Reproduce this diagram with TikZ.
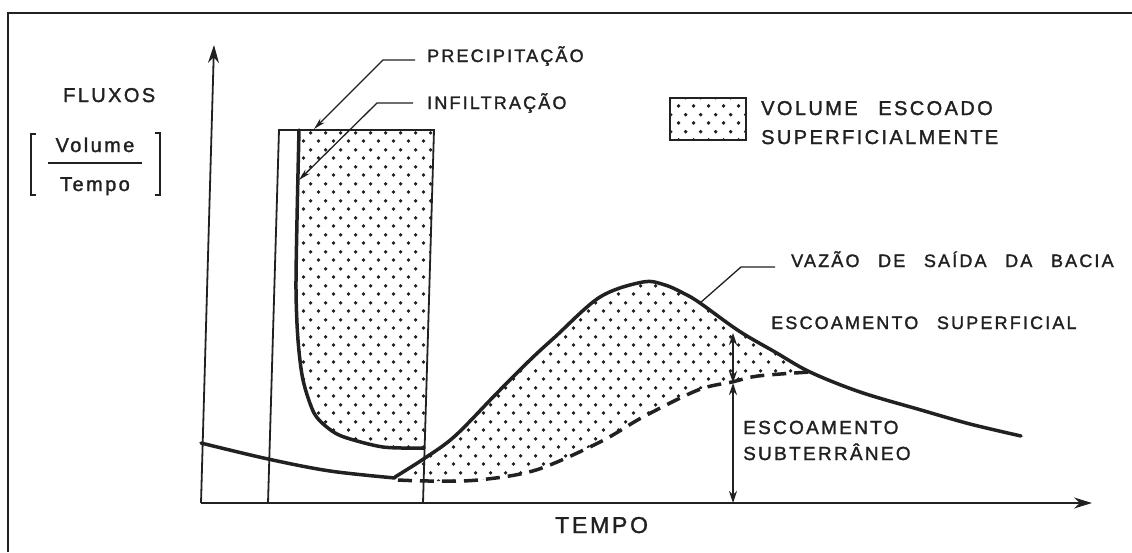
\documentclass[tikz,border=0pt]{standalone}
\usepackage{fontspec}
\setmainfont{Liberation Sans}[LetterSpace=12,WordSpace=2.6,FakeBold=1.5]
\usetikzlibrary{arrows.meta,patterns.meta}

\definecolor{ink}{gray}{0.13}

\tikzdeclarepattern{
  name=stipple,
  bottom left={(0pt,0pt)},
  top right={(15pt,17pt)},
  tile size={(15pt,17pt)},
  code={
    \fill (3.75pt,4.25pt) circle (2pt);
    \fill (11.25pt,12.75pt) circle (2pt);
  }
}

\tikzset{
  axisline/.style={ink, line width=1.8pt, -{Stealth[length=18pt,width=11pt]}},
  boxline/.style={ink, line width=1.8pt},
  runoff/.style={ink, line width=3.5pt, line cap=round, line join=round},
  baseflow/.style={ink, line width=3.5pt, dash pattern=on 14pt off 8pt},
  leader/.style={ink, line width=1.3pt, -{Stealth[length=12pt,width=6pt]}},
  twoway/.style={ink, line width=1.5pt, {Stealth[length=12pt,width=8pt]}-{Stealth[length=12pt,width=8pt]}},
  stippled/.style={pattern=stipple, pattern color=ink},
  lettering/.style={inner sep=0pt, anchor=base west, text=ink, font=\fontsize{18}{22}\selectfont},
}

\begin{document}
\begin{tikzpicture}[x=1pt,y=-1pt]
\useasboundingbox[fill=white] (0,0) rectangle (1132,552);

% Frame
\draw[ink, line width=2pt] (8,552) -- (8,13) -- (1132,13);

% Stippled volumes
\fill[stippled] plot[smooth, tension=0.5] coordinates {(299,130) (297,220) (296,290) (298,340) (303,380) (314,413) (328,428) (344,437) (383,447) (424,448)} -- (434,130) -- cycle;
\fill[stippled] plot[smooth, tension=0.55] coordinates {(395,477) (425,458) (455,436) (497,393) (530,360) (555,337) (600,297) (643,282) (665,285) (685,294) (700,303) (739,331) (775,352) (810,372)}
  -- plot[smooth, tension=0.55] coordinates {(810,372) (758,376) (732,382) (698,390) (643,417) (600,442) (536,470) (478,480) (429,481) (395,479)} -- cycle;

% Axes
\coordinate (origin) at (201,503);
\draw[axisline] (origin) -- (214,45);
\draw[axisline] (origin) -- (1092,503);

% Precipitation block
\draw[boxline] (268,503) -- (279,130) -- (434,130) -- (423,503);

% Infiltration
\draw[runoff] plot[smooth, tension=0.5] coordinates {(299,130) (297,220) (296,290) (298,340) (303,380) (314,413) (328,428) (344,437) (383,447) (424,448)};

% Outflow hydrograph
\draw[runoff] plot[smooth, tension=0.55] coordinates {(201,443) (268,459) (330,471) (395,478)};
\draw[runoff] plot[smooth, tension=0.55] coordinates {(395,477) (425,458) (455,436) (497,393) (530,360) (555,337) (600,297) (643,282) (665,285) (685,294) (700,303) (739,331) (775,352) (810,372) (860,392) (921,410) (970,424) (1021,436)};
\draw[baseflow] plot[smooth, tension=0.55] coordinates {(398,480) (429,481) (478,480) (536,470) (600,442) (643,417) (698,390) (732,382) (758,376) (810,372)};

% Separation of the flows
\coordinate (peakcut) at (733,333);
\coordinate (basecut) at (733,383);
\coordinate (axiscut) at (733,503);
\draw[twoway] (peakcut) -- (basecut);
\draw[twoway] (basecut) -- (axiscut);

% Axis labels
\node[lettering, font=\fontsize{20}{24}\selectfont] (fluxos) at (63,102) {FLUXOS};
\node[lettering, anchor=base, font=\fontsize{20}{24}\selectfont] (volnum) at (95,152) {Volume};
\node[lettering, anchor=base, font=\fontsize{20}{24}\selectfont] (volden) at (95,191) {Tempo};
\draw[ink, line width=1.5pt] (48,163) -- (142,163);
\draw[ink, line width=1.5pt] (36,134) -- (31,134) -- (31,195) -- (36,195);
\draw[ink, line width=1.5pt] (155,133) -- (160,133) -- (160,195) -- (155,195);
\node[lettering, font=\fontsize{23}{27}\selectfont] (tempo) at (555,533) {TEMPO};

% Leaders
\node[lettering] (prec) at (427,62) {PRECIPITAÇÃO};
\node[lettering] (infil) at (427,109) {INFILTRAÇÃO};
\node[lettering] (vazao) at (791,267) {VAZÃO DE SAÍDA DA BACIA};
\coordinate (precTip) at (314,129);
\coordinate (infilTip) at (299,180);
\coordinate (vazaoTip) at (700,303);
\draw[leader] ([shift={(-12,-2)}]prec.base west) -- ++(-32,0) -- (precTip);
\draw[leader] ([shift={(-14,-6)}]infil.base west) -- ++(-36,0) -- (infilTip);
\draw[ink, line width=1.3pt] ([shift={(-16,0)}]vazao.base west) -- ++(-34,0) -- (vazaoTip);

% Legend
\draw[ink, line width=2.5pt, stippled] (670,98) rectangle (746,140);
\node[lettering, font=\fontsize{20}{24}\selectfont] (legendtop) at (761,115) {VOLUME ESCOADO};
\node[lettering, font=\fontsize{20}{24}\selectfont] (legendbot) at (761,144) {SUPERFICIALMENTE};

% Flow components
\node[lettering] (escsup) at (771,329) {ESCOAMENTO SUPERFICIAL};
\node[lettering, font=\fontsize{19}{23}\selectfont] (escsub) at (743,434) {ESCOAMENTO};
\node[lettering, font=\fontsize{19}{23}\selectfont] (subter) at (743,460) {SUBTERRÂNEO};

\end{tikzpicture}
\end{document}
